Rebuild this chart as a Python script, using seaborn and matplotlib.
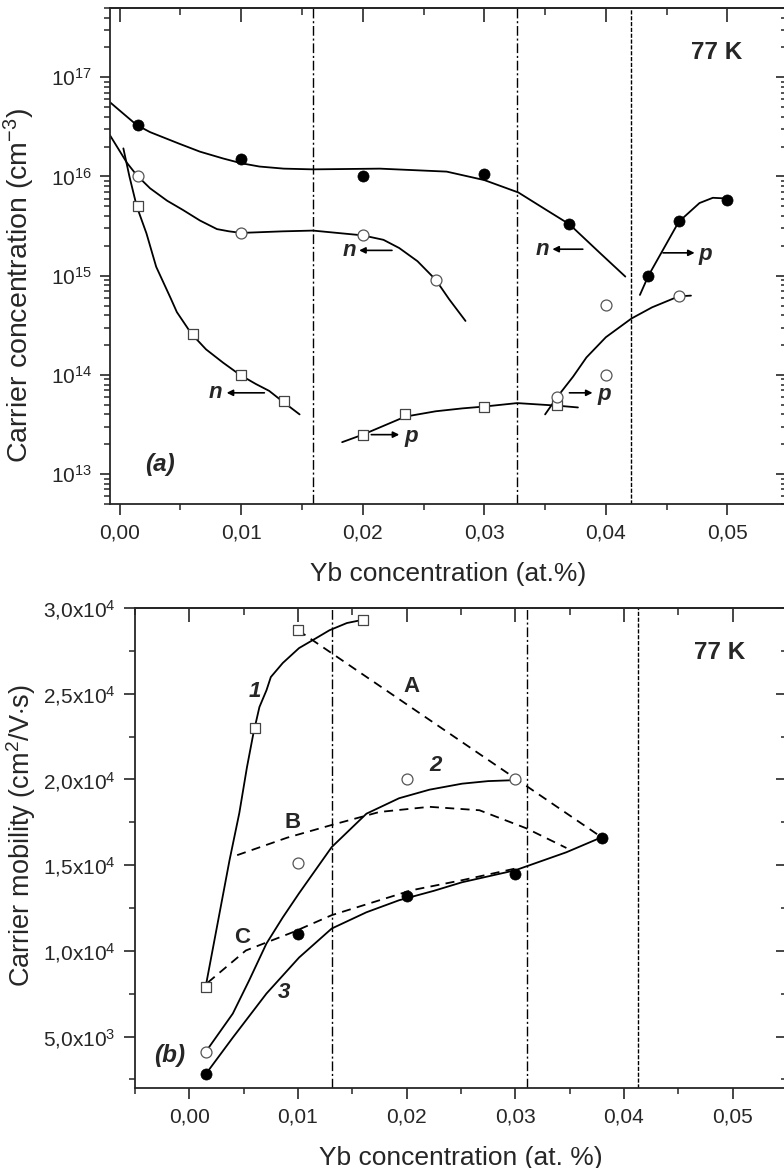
import numpy as np
import matplotlib
matplotlib.use("Agg")
import matplotlib.pyplot as plt
from matplotlib.ticker import FuncFormatter, MultipleLocator, LogLocator, NullFormatter
import seaborn as sns

sns.set_style("ticks")
plt.rcParams['font.family'] = ['Liberation Sans', 'DejaVu Sans']
plt.rcParams['mathtext.fontset'] = 'custom'
plt.rcParams['mathtext.rm'] = 'Liberation Sans'
plt.rcParams['mathtext.it'] = 'Liberation Sans:italic'
plt.rcParams['mathtext.bf'] = 'Liberation Sans:bold'

# ---------- panel (a): carrier concentration ----------
a_filled_x = [0.0015, 0.010, 0.020, 0.030, 0.037, 0.0435, 0.046, 0.050]
a_filled_y = [3.3e16, 1.5e16, 1.0e16, 1.07e16, 3.3e15, 1.0e15, 3.6e15, 5.8e15]
a_open_x = [0.0015, 0.010, 0.020, 0.026, 0.036, 0.040, 0.040, 0.046]
a_open_y = [1.0e16, 2.7e15, 2.6e15, 9.1e14, 6.0e13, 1.0e14, 5.1e14, 6.2e14]
a_sq_x = [0.0015, 0.006, 0.010, 0.0135, 0.020, 0.0235, 0.030, 0.036]
a_sq_y = [5.0e15, 2.6e14, 1.0e14, 5.5e13, 2.5e13, 4.0e13, 4.7e13, 5.0e13]

# hand-drawn guide curves
n_filled_x = [-0.0008, 0.0014, 0.0025, 0.0049, 0.0066, 0.0085, 0.0100, 0.0115, 0.0135, 0.0159,
              0.0214, 0.0241, 0.0269, 0.0300, 0.0328, 0.0351, 0.0370, 0.0395, 0.0416]
n_filled_y = [5.6e16, 3.3e16, 2.8e16, 2.14e16, 1.78e16, 1.52e16, 1.36e16, 1.26e16, 1.2e16, 1.18e16,
              1.2e16, 1.16e16, 1.12e16, 9.2e15, 6.9e15, 4.6e15, 3.3e15, 1.7e15, 9.8e14]
n_open_x = [-0.0008, 0.0006, 0.0014, 0.0025, 0.0039, 0.0052, 0.0066, 0.0080, 0.0090, 0.0100,
            0.0134, 0.0159, 0.0200, 0.0217, 0.0230, 0.0245, 0.0260, 0.0271, 0.02845]
n_open_y = [2.6e16, 1.37e16, 1.03e16, 7.6e15, 5.7e15, 4.6e15, 3.6e15, 2.95e15, 2.8e15, 2.7e15,
            2.8e15, 2.85e15, 2.55e15, 2.3e15, 1.9e15, 1.4e15, 9.1e14, 5.8e14, 3.5e14]
n_sq_x = [0.0003, 0.0008, 0.0014, 0.0022, 0.0030, 0.0042, 0.0047, 0.0059, 0.0071, 0.0085,
          0.0099, 0.0112, 0.0123, 0.0134, 0.0148]
n_sq_y = [1.92e16, 1.0e16, 5.0e15, 2.67e15, 1.23e15, 5.9e14, 4.3e14, 2.6e14, 1.81e14, 1.33e14,
          1.0e14, 8.1e13, 6.9e13, 5.4e13, 4.0e13]
p_sq_x = [0.0183, 0.0200, 0.0235, 0.0260, 0.0282, 0.0300, 0.0327, 0.0360, 0.0377]
p_sq_y = [2.1e13, 2.5e13, 3.8e13, 4.3e13, 4.6e13, 4.8e13, 5.2e13, 4.9e13, 4.7e13]
p_open_x = [0.0350, 0.0360, 0.0373, 0.0384, 0.0400, 0.0421, 0.0438, 0.0460, 0.0470]
p_open_y = [4.0e13, 6.0e13, 9.6e13, 1.5e14, 2.4e14, 3.7e14, 4.8e14, 6.2e14, 6.3e14]
p_filled_x = [0.0428, 0.0435, 0.0460, 0.0477, 0.0488, 0.0500]
p_filled_y = [6.4e14, 1.0e15, 3.5e15, 5.4e15, 6.1e15, 6.0e15]

a_vlines = [0.0159, 0.0327, 0.0421]

# ---------- panel (b): carrier mobility ----------
b_sq_x = [0.0015, 0.006, 0.010, 0.016]
b_sq_y = [7900, 23000, 28700, 29300]
b_open_x = [0.0015, 0.010, 0.020, 0.030]
b_open_y = [4100, 15100, 20000, 20000]
b_filled_x = [0.0015, 0.010, 0.020, 0.030, 0.038]
b_filled_y = [2800, 11000, 13200, 14500, 16600]

c1_x = [0.0015, 0.0037, 0.0046, 0.0053, 0.0059, 0.00645, 0.0071, 0.0075, 0.0086, 0.0101,
        0.0117, 0.0129, 0.0145, 0.0159]
c1_y = [7900, 15290, 18040, 20700, 22700, 24220, 25200, 25970, 26790, 27660,
        28250, 28700, 29120, 29300]
c2_x = [0.0015, 0.0040, 0.0055, 0.0071, 0.0086, 0.0101, 0.0131, 0.0163, 0.0193, 0.0221,
        0.0251, 0.0275, 0.0297]
c2_y = [4100, 6340, 8270, 10430, 11950, 13360, 16050, 18000, 18900, 19400,
        19750, 19900, 19950]
c3_x = [0.0015, 0.0040, 0.0071, 0.0101, 0.0131, 0.0163, 0.0193, 0.0225, 0.0251, 0.0300, 0.0347, 0.0380]
c3_y = [2800, 4940, 7510, 9610, 11300, 12250, 12950, 13500, 14000, 14700, 15750, 16640]
A_x = [0.0100, 0.0380]
A_y = [28700, 16600]
B_x = [0.0044, 0.0090, 0.0131, 0.0175, 0.0221, 0.0267, 0.0310, 0.0347]
B_y = [15580, 16600, 17340, 18100, 18400, 18200, 17150, 16000]
C_x = [0.0017, 0.0052, 0.0095, 0.0131, 0.0175, 0.0205, 0.0251, 0.0300]
C_y = [8150, 10020, 11080, 12080, 12950, 13540, 14120, 14800]

b_vlines = [0.0131, 0.0311, 0.04125]

fig = plt.figure(figsize=(7.84, 11.68), dpi=100)
ax1 = fig.add_axes([0.1403, 0.5685, 0.8635, 0.4247])
ax2 = fig.add_axes([0.1722, 0.0685, 0.8316, 0.4110])

dashdot = (0, (7, 2, 1.5, 2))
dotdash = (0, (3, 1.2))


def comma(v, pos):
    return ("%.2f" % v).replace(".", ",")


def mob(v, pos):
    if v <= 0:
        return ""
    e = int(np.floor(np.log10(v)))
    m = v / 10 ** e
    return ("%.1f" % m).replace(".", ",") + "x10$^{%d}$" % e


def curve(ax, x, y, ls="-"):
    sns.lineplot(x=x, y=y, sort=False, estimator=None, color="black",
                 lw=1.3, linestyle=ls, ax=ax)


def points(ax, x, y, kind):
    if kind == "filled":
        sns.scatterplot(x=x, y=y, marker="o", s=64, color="black",
                        edgecolor="black", linewidth=0.5, zorder=5, ax=ax)
    elif kind == "open":
        sns.scatterplot(x=x, y=y, marker="o", s=62, facecolors="white",
                        edgecolor="#555555", linewidth=0.9, zorder=5, ax=ax)
    else:
        sns.scatterplot(x=x, y=y, marker="s", s=48, facecolors="white",
                        edgecolor="#444444", linewidth=0.9, zorder=5, ax=ax)


def style_axes(ax, log=False):
    for sp in ax.spines.values():
        sp.set_linewidth(1.3)
    ax.tick_params(which="major", direction="out", length=8, width=1.2,
                   labelsize=15, pad=6)
    ax.tick_params(which="minor", direction="out", length=4.5, width=1.1)
    ax.xaxis.set_major_locator(MultipleLocator(0.01))
    ax.xaxis.set_minor_locator(MultipleLocator(0.005))
    ax.xaxis.set_major_formatter(FuncFormatter(comma))
    top = ax.secondary_xaxis("top")
    top.xaxis.set_major_locator(MultipleLocator(0.01))
    top.xaxis.set_minor_locator(MultipleLocator(0.005))
    top.tick_params(which="major", direction="in", length=10, width=1.2,
                    labeltop=False)
    top.tick_params(which="minor", direction="in", length=5, width=1.1)
    top.spines["top"].set_linewidth(1.3)
    right = ax.secondary_yaxis("right")
    if log:
        right.yaxis.set_major_locator(LogLocator(base=10))
        right.yaxis.set_minor_locator(LogLocator(base=10, subs=np.arange(2, 10)))
    else:
        right.yaxis.set_major_locator(MultipleLocator(5000))
        right.yaxis.set_minor_locator(MultipleLocator(2500))
    right.yaxis.set_minor_formatter(NullFormatter())
    right.tick_params(which="major", direction="in", length=8, width=1.2,
                      labelright=False)
    right.tick_params(which="minor", direction="in", length=4, width=1.1)


# panel (a)
curve(ax1, n_filled_x, n_filled_y)
curve(ax1, n_open_x, n_open_y)
curve(ax1, n_sq_x, n_sq_y)
curve(ax1, p_sq_x, p_sq_y)
curve(ax1, p_open_x, p_open_y)
curve(ax1, p_filled_x, p_filled_y)
points(ax1, a_sq_x, a_sq_y, "square")
points(ax1, a_open_x, a_open_y, "open")
points(ax1, a_filled_x, a_filled_y, "filled")
for i, xv in enumerate(a_vlines):
    ax1.axvline(xv, color="black", lw=1.0, ls=dotdash if i == 2 else dashdot, zorder=1)

ax1.set_yscale("log")
ax1.set_xlim(-0.0008, 0.0549)
ax1.set_ylim(5e12, 5e17)
ax1.yaxis.set_major_locator(LogLocator(base=10))
ax1.yaxis.set_minor_locator(LogLocator(base=10, subs=np.arange(2, 10)))
ax1.yaxis.set_minor_formatter(NullFormatter())
style_axes(ax1, log=True)
ax1.tick_params(axis="y", which="major", length=7)
ax1.set_xlabel("Yb concentration (at.%)", fontsize=19, labelpad=14)
ax1.set_ylabel("Carrier concentration (cm$^{-3}$)", fontsize=20.5)
ax1.yaxis.set_label_coords(-0.108, 0.44)

lab = dict(fontsize=16, fontweight="bold", fontstyle="italic", va="center", ha="center")
arr = dict(arrowstyle="-|>", color="black", lw=1.2, mutation_scale=9, shrinkA=0, shrinkB=0)
ax1.text(0.0189, 1.8e15, "n", **lab)
ax1.annotate("", xy=(0.0197, 1.8e15), xytext=(0.0224, 1.8e15), arrowprops=arr)
ax1.text(0.0348, 1.85e15, "n", **lab)
ax1.annotate("", xy=(0.0356, 1.85e15), xytext=(0.0381, 1.85e15), arrowprops=arr)
ax1.text(0.0079, 6.6e13, "n", **lab)
ax1.annotate("", xy=(0.0088, 6.6e13), xytext=(0.0119, 6.6e13), arrowprops=arr)
ax1.annotate("", xy=(0.0230, 2.5e13), xytext=(0.0207, 2.5e13), arrowprops=arr)
ax1.text(0.0240, 2.4e13, "p", **lab)
ax1.annotate("", xy=(0.0389, 6.6e13), xytext=(0.0370, 6.6e13), arrowprops=arr)
ax1.text(0.0399, 6.4e13, "p", **lab)
ax1.annotate("", xy=(0.0473, 1.7e15), xytext=(0.0447, 1.7e15), arrowprops=arr)
ax1.text(0.0482, 1.65e15, "p", **lab)
ax1.text(0.0491, 1.76e17, "77 K", fontsize=17.5, fontweight="bold", ha="center", va="center")
ax1.text(0.0033, 1.24e13, "(a)", **dict(lab, fontsize=17.5))

# panel (b)
curve(ax2, c1_x, c1_y)
curve(ax2, c2_x, c2_y)
curve(ax2, c3_x, c3_y)
curve(ax2, A_x, A_y, ls=(0, (5, 3.5)))
curve(ax2, B_x, B_y, ls=(0, (5, 3.5)))
curve(ax2, C_x, C_y, ls=(0, (5, 3.5)))
points(ax2, b_sq_x, b_sq_y, "square")
points(ax2, b_open_x, b_open_y, "open")
points(ax2, b_filled_x, b_filled_y, "filled")
for i, xv in enumerate(b_vlines):
    ax2.axvline(xv, color="black", lw=1.0, ls=dotdash if i == 2 else dashdot, zorder=1)

ax2.set_xlim(-0.005, 0.055)
ax2.set_ylim(2000, 30000)
ax2.yaxis.set_major_locator(MultipleLocator(5000))
ax2.yaxis.set_minor_locator(MultipleLocator(2500))
ax2.yaxis.set_major_formatter(FuncFormatter(mob))
style_axes(ax2)
ax2.set_xlabel("Yb concentration (at. %)", fontsize=19, labelpad=14)
ax2.set_ylabel("Carrier mobility (cm$^2$/V$\\cdot$s)", fontsize=19.5)
ax2.yaxis.set_label_coords(-0.149, 0.525)

ax2.text(0.0060, 25100, "1", **lab)
ax2.text(0.0227, 20830, "2", **lab)
ax2.text(0.0087, 7570, "3", **lab)
up = dict(fontsize=16, fontweight="bold", va="center", ha="center")
ax2.text(0.0204, 25440, "A", **up)
ax2.text(0.0095, 17500, "B", **up)
ax2.text(0.0049, 10780, "C", **up)
ax2.text(0.0488, 27430, "77 K", fontsize=17.5, fontweight="bold", ha="center", va="center")
ax2.text(-0.0018, 3890, "(b)", **dict(lab, fontsize=17.5))

fig.savefig("out.png", dpi=100)
